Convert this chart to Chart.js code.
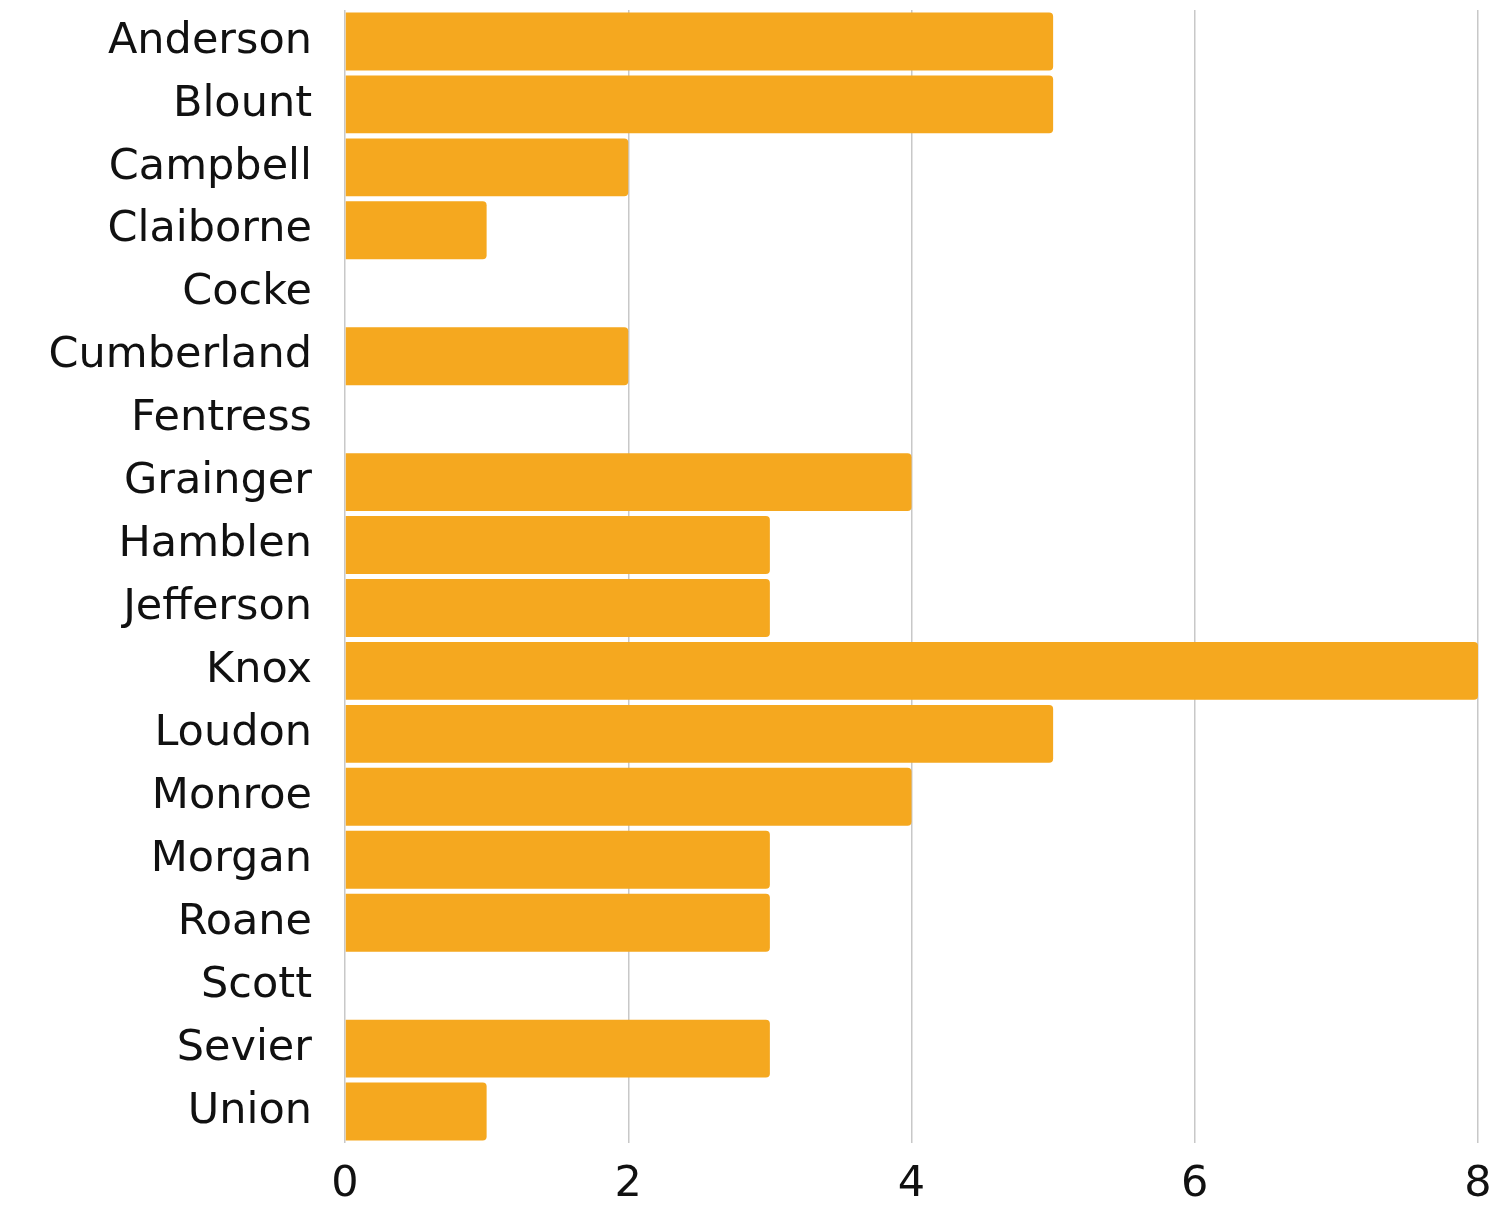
<!DOCTYPE html>
<html>
<head>
<meta charset="utf-8">
<script src="https://cdn.jsdelivr.net/npm/chart.js@4/dist/chart.umd.min.js"></script>
<style>
  html, body { margin: 0; padding: 0; background: #fff; }
  #wrap { width: 1498px; height: 1207px; }
</style>
</head>
<body>
<div id="wrap"><canvas id="countyChart" width="1498" height="1207"></canvas></div>
<script>
const counties = ['Anderson', 'Blount', 'Campbell', 'Claiborne', 'Cocke', 'Cumberland',
  'Fentress', 'Grainger', 'Hamblen', 'Jefferson', 'Knox', 'Loudon', 'Monroe',
  'Morgan', 'Roane', 'Scott', 'Sevier', 'Union'];
const counts = [5, 5, 2, 1, 0, 2, 0, 4, 3, 3, 8, 5, 4, 3, 3, 0, 3, 1];
const xTicks = [0, 2, 4, 6, 8];

const labelFont = { family: "'DejaVu Sans', sans-serif", size: 43, weight: 'normal' };

const ctx = document.getElementById('countyChart').getContext('2d');
new Chart(ctx, {
  type: 'bar',
  data: {
    labels: counties,
    datasets: [{
      data: counts,
      backgroundColor: '#F5A81F',
      borderRadius: { topLeft: 0, bottomLeft: 0, topRight: 4, bottomRight: 4 },
      borderSkipped: false,
      barPercentage: 0.92,
      categoryPercentage: 1
    }]
  },
  options: {
    indexAxis: 'y',
    responsive: false,
    animation: false,
    layout: { padding: { top: 10, right: 20, bottom: 0, left: 0 } },
    plugins: {
      legend: { display: false },
      tooltip: { enabled: false }
    },
    scales: {
      x: {
        min: xTicks[0],
        max: xTicks[xTicks.length - 1],
        afterBuildTicks: axis => { axis.ticks = xTicks.map(v => ({ value: v })); },
        grid: { color: '#c8c8c8', lineWidth: 1.5, drawTicks: false },
        border: { display: false },
        ticks: { color: '#111', font: labelFont, padding: 16 },
        afterFit: axis => {
          axis.height = 64;
          axis.paddingLeft = 0;
          axis.paddingRight = 0;
        }
      },
      y: {
        grid: { display: false },
        border: { display: false },
        ticks: { color: '#111', font: labelFont, padding: 25 },
        afterFit: axis => {
          axis.width = 345;
          axis.paddingTop = 0;
          axis.paddingBottom = 0;
        }
      }
    }
  }
});
</script>
</body>
</html>
